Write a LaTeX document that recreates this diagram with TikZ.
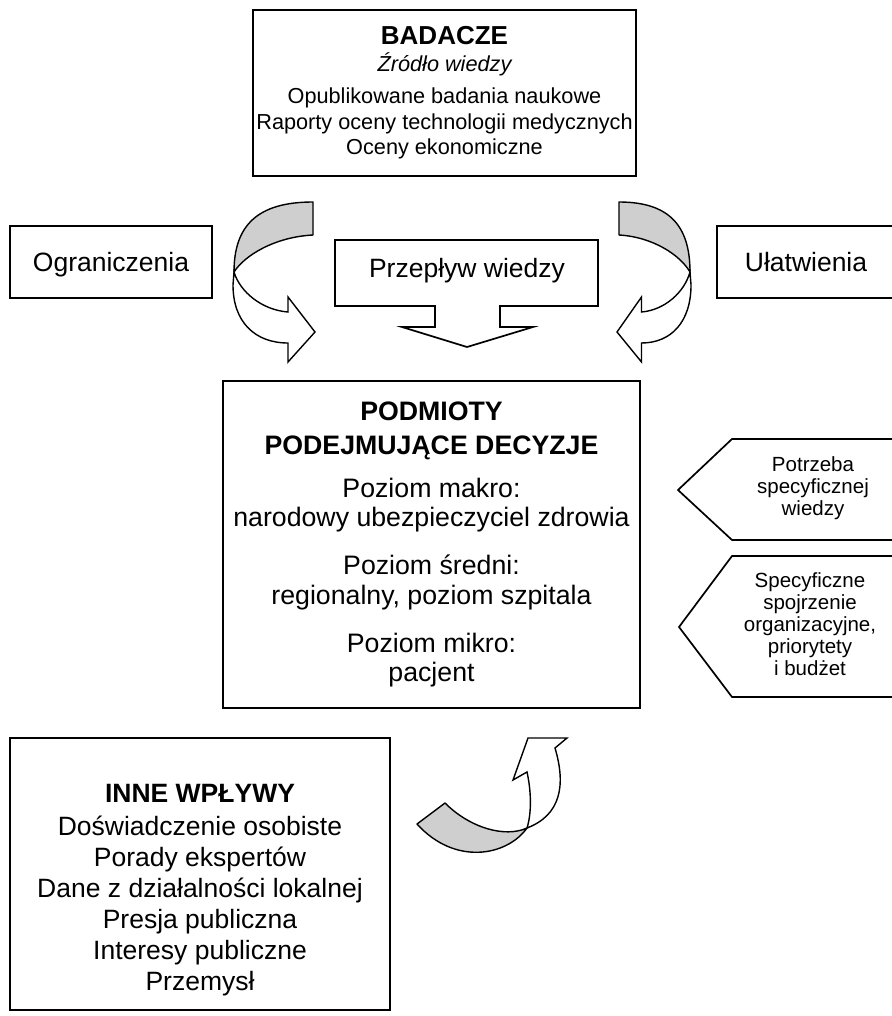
\documentclass[tikz,border=0pt]{standalone}
\usepackage{fontspec}
\setmainfont{Liberation Sans}
\usetikzlibrary{positioning}

\begin{document}
\begin{tikzpicture}[x=1pt, y=-1pt]
  \tikzstyle{box}=[rectangle, line width=1.7pt, draw=black, align=center, inner sep=0pt]
  \tikzstyle{outline}=[line width=1.7pt, draw=black, line join=miter]
  \tikzstyle{backside}=[line width=1.4pt, draw=black, fill=black!19, line join=round]
  \tikzstyle{frontside}=[line width=1.4pt, draw=black, fill=white, line join=miter]
  \tikzstyle{big}=[align=center, font=\fontsize{26.5}{31}\selectfont]
  \tikzstyle{small}=[align=center, font=\fontsize{20.5}{22}\selectfont]

  \useasboundingbox (0,0) rectangle (891,1016);

  % source of knowledge
  \node[box, minimum width=383pt, minimum height=166pt, font=\fontsize{21.7}{25.5}\selectfont] (badacze) at (444.5,93)
    {{\bfseries\fontsize{26}{26}\selectfont BADACZE}\\[1.5pt]
     {\itshape Źródło wiedzy}\\[6.5pt]
     Opublikowane badania naukowe\\
     Raporty oceny technologii medycznych\\
     Oceny ekonomiczne};

  \node[box, big, text depth=0pt, minimum width=202pt, minimum height=72pt] (ograniczenia) at (111,262) {Ograniczenia};
  \node[box, big, text depth=0pt, minimum width=178pt, minimum height=72pt] (ulatwienia) at (806,262) {Ułatwienia};

  % knowledge flow
  \draw[outline] (335,240) -- (598,240) -- (598,306) -- (500,306) -- (500,327) -- (533,327)
    -- (467,347) -- (402,327) -- (435,327) -- (435,306) -- (335,306) -- cycle;
  \node[big, text depth=0pt] (przeplyw) at (467,268) {Przepływ wiedzy};

  % curved arrow, left
  \path[backside] (313,202) .. controls (258,202) and (234,225) .. (234,272)
    .. controls (245,255) and (275,237) .. (313,235) -- cycle;
  \path[frontside] (234,272) .. controls (240,292) and (262,310) .. (288,312) -- (288,297)
    -- (315,332) -- (288,362) -- (288,343) .. controls (255,343) and (233,322) .. (233,285) -- cycle;

  % curved arrow, right
  \path[backside] (619,202) .. controls (668.5,202) and (690,225) .. (690,272)
    .. controls (680,255) and (653,237) .. (619,235) -- cycle;
  \path[frontside] (690,272) .. controls (684.5,292) and (665,310) .. (641.5,312) -- (641.5,297)
    -- (617,332) -- (641.5,362) -- (641.5,343) .. controls (671,343) and (691,322) .. (691,285) -- cycle;

  % decision makers
  \node[box, minimum width=417pt, minimum height=327pt, font=\fontsize{26.7}{29.5}\selectfont] (podmioty) at (431.5,544.5)
    {\textbf{PODMIOTY}\\[4.5pt]
     \textbf{PODEJMUJĄCE DECYZJE}\\[13.5pt]
     Poziom makro:\\
     narodowy ubezpieczyciel zdrowia\\[18.5pt]
     Poziom średni:\\
     regionalny, poziom szpitala\\[18.5pt]
     Poziom mikro:\\
     pacjent};

  % needs on the right
  \draw[outline] (900,439) -- (732,439) -- (678,490) -- (732,540) -- (900,540);
  \node[small] (potrzeba) at (813,488) {Potrzeba\\specyficznej\\wiedzy};
  \draw[outline] (900,556) -- (732,556) -- (679,627) -- (732,697) -- (900,697);
  \node[small] (spojrzenie) at (810,624) {Specyficzne\\spojrzenie\\organizacyjne,\\priorytety\\i budżet};

  % other influences
  \node[box, minimum width=380pt, minimum height=272pt] (inne) at (200,874) {};
  \node[big] (inneTekst) at (200,890)
    {\textbf{INNE WPŁYWY}\\[2pt]
     Doświadczenie osobiste\\
     Porady ekspertów\\
     Dane z działalności lokalnej\\
     Presja publiczna\\
     Interesy publiczne\\
     Przemysł};

  % curved arrow, bottom
  \path[backside] (417,824) -- (445,803) .. controls (470,828) and (505,838) .. (527,828)
    .. controls (507,856) and (455,866) .. (417,824) -- cycle;
  \path[frontside] (527,828) .. controls (532,812) and (531,790) .. (527,772) -- (513,780)
    -- (528,738) -- (567,738) -- (555,748) .. controls (566,785) and (561,815) .. (527,828) -- cycle;

\end{tikzpicture}
\end{document}
